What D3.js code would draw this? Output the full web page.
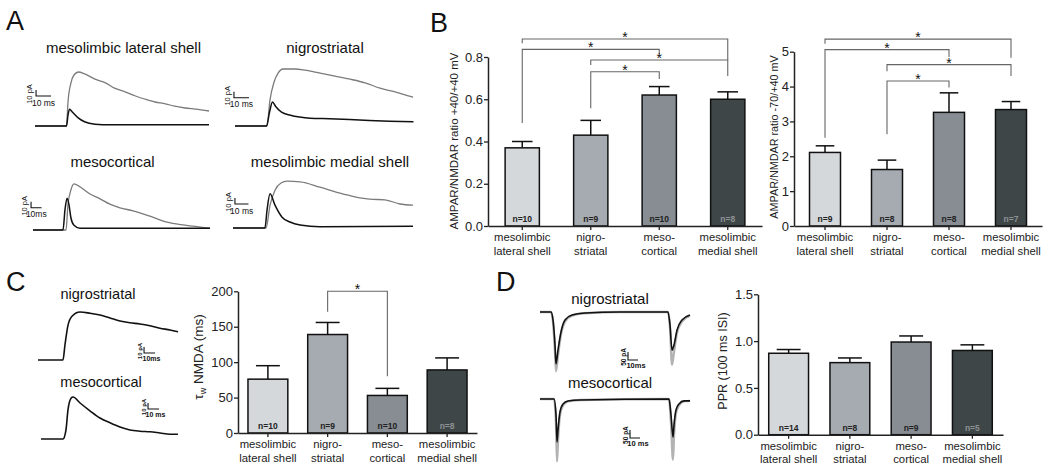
<!DOCTYPE html>
<html>
<head>
<meta charset="utf-8">
<script src="https://cdn.jsdelivr.net/npm/d3@7"></script>
<style>
  body { margin: 0; background: #fff; }
  svg { display: block; font-family: "Liberation Sans", Arial, sans-serif; }
</style>
</head>
<body>
<svg id="fig" width="1050" height="476"></svg>
<script>
// ---- data ----
var catLines = [["mesolimbic", "lateral shell"], ["nigro-", "striatal"], ["meso-", "cortical"], ["mesolimbic", "medial shell"]];
var barColors = ["#d5d8db", "#a6abb1", "#878d93", "#3e4648"];

var ratio40Mean = [0.37, 0.43, 0.62, 0.60];
var ratio40Sem  = [0.03, 0.07, 0.04, 0.035];
var ratio40N    = [10, 9, 10, 8];
var ratio40Sig  = [[0, 3, 0.885, 0.865, 0.786], [0, 2, 0.836, 0.487, 0.814], [1, 3, 0.786, 0.762, 0.71], [1, 2, 0.73, 0.557, 0.696]];

var ratio70Mean = [2.11, 1.62, 3.26, 3.34];
var ratio70Sem  = [0.19, 0.27, 0.56, 0.23];
var ratio70N    = [9, 8, 8, 7];
var ratio70Sig  = [[0, 3, 5.36, 5.23, 4.83], [0, 2, 5.06, 2.53, 4.85], [1, 3, 4.63, 4.44, 4.30], [1, 2, 4.16, 2.63, 3.97]];

var tauMean = [76, 139, 53, 89];
var tauSem  = [19, 17, 10, 17];
var tauN    = [10, 9, 10, 8];
var tauSig  = [[1, 2, 200, 171, 80]];

var pprMean = [0.87, 0.77, 0.99, 0.90];
var pprSem  = [0.04, 0.05, 0.065, 0.06];
var pprN    = [14, 8, 9, 5];

// traces: [ms, pA]
var latGrey  = [[0,0],[21,0],[22,40],[24,72],[26,85],[29,90],[33,87],[40,78],[47,72],[53,63],[60,57],[67,50],[73,45],[80,40],[87,37],[93,33],[100,30],[107,28],[116,25]];
var latBlack = [[0,0],[21,0],[22,18],[23,28],[25,23],[29,13],[33,7],[40,3],[50,2],[116,2]];
var nigGrey  = [[0,0],[21.3,0],[23.3,43],[26,73],[28.7,88],[32,95],[40,95],[46.7,93],[56.7,88],[66.7,83],[76.7,78],[86.7,72],[96.7,63],[106.7,57],[118.7,48]];
var nigBlack = [[0,0],[21,0],[23,23],[25,40],[27,33],[31,23],[37,18],[43,15],[50,13],[63,12],[83,10],[103,8],[119,7]];
var mcoGrey  = [[0,0],[22,0],[23.3,42],[25.3,67],[27.3,77],[31.3,72],[38,60],[44.7,52],[51.3,43],[58,37],[66.7,32],[78,23],[89.3,13],[101.3,8],[118,3]];
var mcoBlack = [[0,0],[20,0],[21.3,33],[22.7,53],[24,42],[25.3,20],[27.3,8],[31.3,3],[44.7,3],[118,3]];
var medGrey  = [[0,0],[22,0],[24.7,38],[28,63],[32,75],[36,78],[44.7,77],[58,68],[71.3,58],[81.3,52],[91.3,48],[101.3,47],[111.3,40],[120,38]];
var medBlack = [[0,0],[21.3,0],[22.7,30],[24.7,57],[28,38],[32.7,18],[38,10],[44.7,5],[58,2],[120,3]];

var tauNig = [[0,0],[22.7,0],[24.5,25],[27.3,58],[30.9,73],[38.2,80],[47.3,78],[56.4,75],[65.5,70],[74.5,65],[83.6,62],[92.7,60],[101.8,57],[110.9,53],[120,50],[127.3,47]];
var tauMco = [[0,0],[20,0],[22.7,15],[24.5,48],[27.3,68],[29.1,70],[35.5,60],[44.5,47],[53.6,35],[62.7,27],[71.8,20],[80.9,15],[90,13],[99.1,12],[108.2,10],[117.3,8],[124.5,8]];

var pprNigBlack = [[0,0],[11,0],[13,-50],[15,-206],[16,-325],[18,-238],[21,-125],[25,-50],[32,-19],[45,-6],[80,0],[128,0],[130,-81],[132,-238],[134,-206],[137,-113],[142,-50],[150,-19]];
var pprNigGrey  = [[0,0],[11,0],[13,-60],[15,-250],[16,-370],[18,-270],[21,-140],[25,-60],[32,-22],[45,-8],[80,0],[128,0],[130,-95],[132,-330],[134,-250],[137,-130],[142,-60],[150,-22]];
var pprMcoBlack = [[0,0],[14,0],[16,-100],[17,-269],[18,-194],[20,-81],[23,-31],[28,-12],[40,-6],[129,0],[131,-100],[133,-238],[134,-163],[136,-69],[139,-31],[144,-12],[150,-12]];
var pprMcoGrey  = [[0,0],[14,0],[16,-150],[17,-390],[18,-260],[20,-100],[23,-40],[28,-15],[40,-6],[129,0],[131,-150],[133,-380],[134,-230],[136,-90],[139,-40],[144,-15],[150,-12]];

// ---- drawing ----
var svg = d3.select("#fig");

function panelLetter(s, x, y) {
  svg.append("text").attr("x", x).attr("y", y).attr("font-size", 27).attr("fill", "#111").text(s);
}

function barChart(c) {
  var g = svg.append("g");
  var x = d3.scaleBand().domain(d3.range(4)).range(c.xr).paddingInner(c.pi).paddingOuter(c.po);
  var y = d3.scaleLinear().domain(c.yd).range(c.yr);
  var bw = x.bandwidth(), mid = function(i) { return x(i) + bw / 2; };

  // error bars (upper only)
  var eb = g.selectAll("g.eb").data(c.mean).enter().append("g").attr("stroke", "#111").attr("stroke-width", 1.5);
  eb.append("line").attr("x1", function(d, i) { return mid(i); }).attr("x2", function(d, i) { return mid(i); })
    .attr("y1", function(d) { return y(d); }).attr("y2", function(d, i) { return y(d + c.sem[i]); });
  eb.append("line").attr("x1", function(d, i) { return mid(i) - bw * 0.3; }).attr("x2", function(d, i) { return mid(i) + bw * 0.3; })
    .attr("y1", function(d, i) { return y(d + c.sem[i]); }).attr("y2", function(d, i) { return y(d + c.sem[i]); });

  g.selectAll("rect.bar").data(c.mean).enter().append("rect")
    .attr("x", function(d, i) { return x(i); }).attr("y", function(d) { return y(d); })
    .attr("width", bw).attr("height", function(d) { return y(0) - y(d); })
    .attr("fill", function(d, i) { return barColors[i]; })
    .attr("stroke", "#111").attr("stroke-width", 1.5);

  g.selectAll("text.n").data(c.n).enter().append("text")
    .attr("x", function(d, i) { return mid(i); }).attr("y", y(0) - 4)
    .attr("text-anchor", "middle").attr("font-size", 8.5).attr("font-weight", "bold")
    .attr("fill", function(d, i) { return i === 3 ? "#8c9194" : "#222"; })
    .text(function(d) { return "n=" + d; });

  // significance brackets
  (c.sig || []).forEach(function(s) {
    g.append("path")
      .attr("d", "M" + mid(s[0]) + "," + y(s[3]) + "V" + y(s[2]) + "H" + mid(s[1]) + "V" + y(s[4]))
      .attr("fill", "none").attr("stroke", "#666").attr("stroke-width", 1.1);
    g.append("text").attr("x", (mid(s[0]) + mid(s[1])) / 2).attr("y", y(s[2]) + 3)
      .attr("text-anchor", "middle").attr("font-size", 14).attr("fill", "#111").text("*");
  });

  var ya = g.append("g").attr("transform", "translate(" + c.xr[0] + ",0)")
    .call(d3.axisLeft(y).tickValues(c.ticks).tickFormat(c.fmt).tickSize(4).tickSizeOuter(0).tickPadding(1));
  var xa = g.append("g").attr("transform", "translate(0," + y(0) + ")")
    .call(d3.axisBottom(x).tickSize(4).tickSizeOuter(0).tickFormat(""));
  [ya, xa].forEach(function(a) {
    a.select(".domain").attr("stroke", "#222").attr("stroke-width", 1.5);
    a.selectAll(".tick line").attr("stroke", "#222").attr("stroke-width", 1.3);
  });
  ya.selectAll(".tick text").attr("font-size", 13).attr("fill", "#222").attr("font-family", null);

  catLines.forEach(function(lines, i) {
    lines.forEach(function(t, k) {
      g.append("text").attr("x", mid(i)).attr("y", y(0) + 15 + k * 13.5)
        .attr("text-anchor", "middle").attr("font-size", 11.3).attr("fill", "#222").text(t);
    });
  });

  var lab = g.append("text").attr("transform", "translate(" + c.lx + "," + c.ly + ") rotate(-90)")
    .attr("text-anchor", "middle").attr("font-size", c.lfs).attr("fill", "#222");
  c.label(lab);
}

function tracePanel(p) {
  var g = svg.append("g");
  var xs = d3.scaleLinear().domain([0, 100]).range([p.x0, p.x0 + 100 * p.sx]);
  var ys = d3.scaleLinear().domain([0, 100]).range([p.y0, p.y0 - 100 * p.sy]);
  var line = d3.line().x(function(d) { return xs(d[0]); }).y(function(d) { return ys(d[1]); }).curve(d3.curveMonotoneX);
  p.lines.forEach(function(l) {
    g.append("path").datum(l[0]).attr("d", line).attr("fill", "none")
      .attr("stroke", l[1]).attr("stroke-width", l[2]).attr("stroke-linejoin", "round");
  });
  g.append("text").attr("x", p.tx).attr("y", p.ty).attr("text-anchor", "middle")
    .attr("font-size", p.tfs).attr("fill", "#111").text(p.title);

  var b = p.bar, cx = xs(b[0]), cy = ys(b[1]), top = ys(b[1] + b[3]), right = xs(b[0] + b[2]);
  g.append("path").attr("d", "M" + cx + "," + top + "V" + cy + "H" + right)
    .attr("fill", "none").attr("stroke", "#111").attr("stroke-width", 1.1);
  g.append("text").attr("transform", "translate(" + (cx - p.sb.dx) + "," + ((top + cy) / 2 + p.sb.dy) + ") rotate(-90)")
    .attr("text-anchor", "middle").attr("font-size", p.sb.fs).attr("fill", "#111").attr("font-weight", p.sb.fw).text(b[4]);
  g.append("text").attr("x", (cx + right) / 2 + p.sb.hx).attr("y", cy + p.sb.hy)
    .attr("text-anchor", "middle").attr("font-size", p.sb.fs + 1).attr("fill", "#111").attr("font-weight", p.sb.fw).text(b[5]);
}

// Panel A
panelLetter("A", 6, 30);
var sbA = { dx: 4, dy: 1, fs: 7.5, fw: "normal", hx: 0, hy: 9.5 };
var greyA = "#7b7b7b", blackA = "#111";
tracePanel({ x0: 35, y0: 126, sx: 1.5, sy: 0.6, title: "mesolimbic lateral shell", tx: 123.5, ty: 52.5, tfs: 15,
  lines: [[latGrey, greyA, 1.3], [latBlack, blackA, 1.5]], bar: [0.7, 50, 10, 10, "10 pA", "10 ms"], sb: sbA });
tracePanel({ x0: 235, y0: 126, sx: 1.5, sy: 0.6, title: "nigrostriatal", tx: 325, ty: 52.5, tfs: 15,
  lines: [[nigGrey, greyA, 1.3], [nigBlack, blackA, 1.5]], bar: [-0.7, 47, 10, 10, "10 pA", "10 ms"], sb: sbA });
tracePanel({ x0: 33, y0: 230, sx: 1.5, sy: 0.6, title: "mesocortical", tx: 112.5, ty: 166.5, tfs: 15,
  lines: [[mcoGrey, greyA, 1.3], [mcoBlack, blackA, 1.5]], bar: [-1.3, 37, 7, 10, "10 pA", "10ms"], sb: sbA });
tracePanel({ x0: 233, y0: 228, sx: 1.5, sy: 0.6, title: "mesolimbic medial shell", tx: 330, ty: 166.5, tfs: 15,
  lines: [[medGrey, greyA, 1.3], [medBlack, blackA, 1.5]], bar: [1.3, 40, 9, 10, "10 pA", "10 ms"], sb: sbA });

// Panel B
panelLetter("B", 430, 32);
barChart({ xr: [488, 762], pi: 0.5, po: 0.25, yd: [0, 0.8], yr: [226, 57],
  ticks: [0, 0.2, 0.4, 0.6, 0.8], fmt: d3.format(".1f"),
  mean: ratio40Mean, sem: ratio40Sem, n: ratio40N, sig: ratio40Sig,
  lx: 458, ly: 141, lfs: 11.5,
  label: function(t) { t.text("AMPAR/NMDAR ratio +40/+40 mV"); } });
barChart({ xr: [794, 1042], pi: 0.5, po: 0.25, yd: [0, 5], yr: [226, 51.7],
  ticks: [0, 1, 2, 3, 4, 5], fmt: d3.format("d"),
  mean: ratio70Mean, sem: ratio70Sem, n: ratio70N, sig: ratio70Sig,
  lx: 778, ly: 137, lfs: 10.8,
  label: function(t) { t.text("AMPAR/NMDAR ratio -70/+40 mV"); } });

// Panel C
panelLetter("C", 6, 291);
var sbC = { dx: 2.5, dy: 1, fs: 6, fw: "bold", hx: 2, hy: 8 };
tracePanel({ x0: 38, y0: 360, sx: 1.1, sy: 0.6, title: "nigrostriatal", tx: 98, ty: 299, tfs: 14.5,
  lines: [[tauNig, "#111", 1.6]], bar: [96.4, 11.7, 10, 10, "10 pA", "10ms"], sb: sbC });
tracePanel({ x0: 41, y0: 439, sx: 1.1, sy: 0.6, title: "mesocortical", tx: 101, ty: 387, tfs: 14.5,
  lines: [[tauMco, "#111", 1.6]], bar: [97.3, 50, 10, 10, "10 pA", "10 ms"], sb: sbC });
barChart({ xr: [238, 477], pi: 0.333, po: 0.167, yd: [0, 200], yr: [433, 291.3],
  ticks: [0, 50, 100, 150, 200], fmt: d3.format("d"),
  mean: tauMean, sem: tauSem, n: tauN, sig: tauSig,
  lx: 203, ly: 357, lfs: 13.5,
  label: function(t) {
    t.append("tspan").text("\u03c4");
    t.append("tspan").attr("font-size", 9).attr("dy", 3).text("w");
    t.append("tspan").attr("dy", -3).text(" NMDA (ms)");
  } });

// Panel D
panelLetter("D", 496, 291);
var sbD = { dx: 2.5, dy: 1, fs: 6.5, fw: "bold", hx: 3, hy: 8 };
tracePanel({ x0: 540, y0: 312, sx: 1.0, sy: 0.16, title: "nigrostriatal", tx: 610, ty: 304, tfs: 15,
  lines: [[pprNigGrey, "#b3b3b3", 2.4], [pprNigBlack, "#111", 1.6]], bar: [88, -300, 10, 50, "50 pA", "10ms"], sb: sbD });
tracePanel({ x0: 540, y0: 399, sx: 1.0, sy: 0.16, title: "mesocortical", tx: 610, ty: 388, tfs: 15,
  lines: [[pprMcoGrey, "#b3b3b3", 2.4], [pprMcoBlack, "#111", 1.6]], bar: [90, -244, 10, 50, "50 pA", "10 ms"], sb: sbD });
barChart({ xr: [758, 1003], pi: 0.35, po: 0.175, yd: [0, 1.5], yr: [434.7, 294.3],
  ticks: [0, 0.5, 1, 1.5], fmt: d3.format(".1f"),
  mean: pprMean, sem: pprSem, n: pprN, sig: [],
  lx: 727, ly: 361, lfs: 12.5,
  label: function(t) { t.text("PPR (100 ms ISI)"); } });
</script>
</body>
</html>
